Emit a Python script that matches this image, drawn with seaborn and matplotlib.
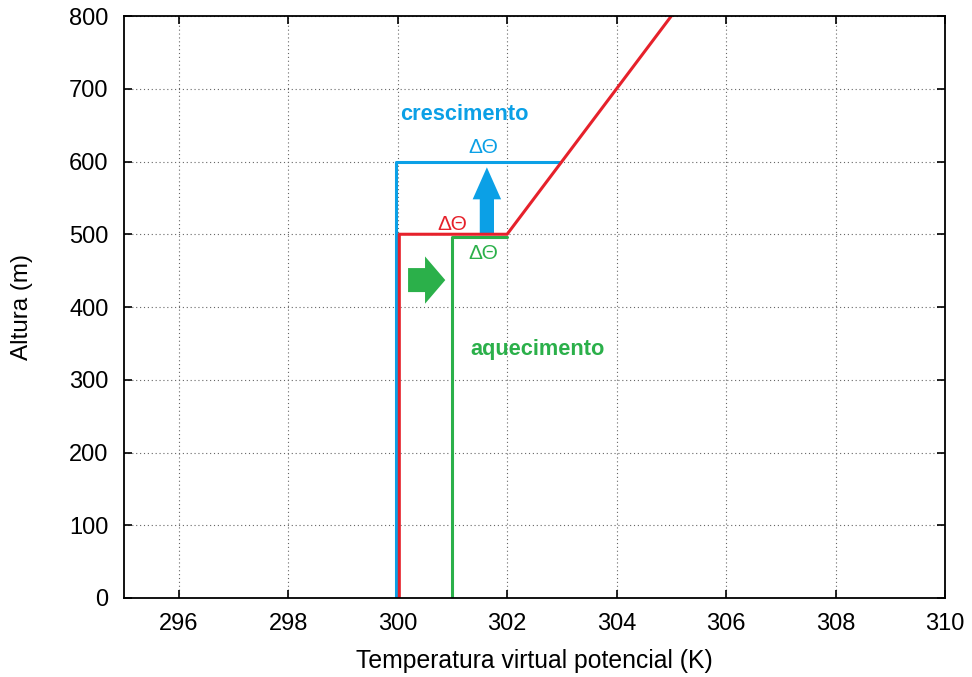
import matplotlib
matplotlib.use("Agg")
import matplotlib.pyplot as plt
import seaborn as sns
import pandas as pd
from matplotlib.patches import FancyArrow

# Data
red_x = [300.03, 300.03, 302.0, 305.0]
red_y = [0, 500, 500, 800]
blue_x = [299.97, 299.97, 302.97]
blue_y = [0, 600, 600]
green_x = [301.0, 301.0, 302.0]
green_y = [0, 496, 496]

xticks = [296, 298, 300, 302, 304, 306, 308, 310]
yticks = [0, 100, 200, 300, 400, 500, 600, 700, 800]

BLUE = "#0ba0e6"
RED = "#e6212b"
GREEN = "#2bb04a"

sns.set_theme(style="white")
plt.rcParams['font.family'] = ['Liberation Sans', 'DejaVu Sans']
plt.rcParams['text.color'] = 'black'
plt.rcParams['axes.labelcolor'] = 'black'
plt.rcParams['xtick.color'] = 'black'
plt.rcParams['ytick.color'] = 'black'

fig = plt.figure(figsize=(9.72, 6.77), dpi=100)
ax = fig.add_axes([124/972, 1-598/677, (945-124)/972, (598-16)/677])

def seg(xs, ys, name):
    return pd.DataFrame({"x": xs, "y": ys, "s": name})

df = pd.concat([seg(blue_x, blue_y, "blue"), seg(green_x, green_y, "green"), seg(red_x, red_y, "red")])
sns.lineplot(data=df, x="x", y="y", hue="s", sort=False, estimator=None,
             palette={"blue": BLUE, "green": GREEN, "red": RED}, linewidth=2.2,
             legend=False, ax=ax)

ax.set_xlim(295, 310)
ax.set_ylim(0, 800)
ax.set_xticks(xticks)
ax.set_yticks(yticks)
ax.grid(True, linestyle=(0, (1, 2.5)), color="#666666", linewidth=0.8)
ax.tick_params(direction="in", length=6, width=1.2, colors="black", labelsize=17,
               top=True, right=True, bottom=True, left=True, pad=11)
for s in ax.spines.values():
    s.set_color("black")
    s.set_linewidth(1.3)
ax.set_xlabel("Temperatura virtual potencial (K)", fontsize=17.8, labelpad=10, color="black")
ax.set_ylabel("Altura (m)", fontsize=17.5, labelpad=26, color="black")

# arrows
ax.add_patch(FancyArrow(301.63, 500, 0, 92, width=0.26, head_width=0.52, head_length=44,
                        length_includes_head=True, color=BLUE, lw=0))
ax.add_patch(FancyArrow(300.19, 437, 0.68, 0, width=33, head_width=65, head_length=0.37,
                        length_includes_head=True, color=GREEN, lw=0))

ax.text(300.04, 665, "crescimento", color=BLUE, fontsize=15.7, fontweight="bold", va="center", ha="left")
ax.text(301.32, 341, "aquecimento", color=GREEN, fontsize=15.7, fontweight="bold", va="center", ha="left")
ax.text(301.56, 619, "ΔΘ", color=BLUE, fontsize=15, va="center", ha="center")
ax.text(301.0, 513, "ΔΘ", color=RED, fontsize=15, va="center", ha="center")
ax.text(301.56, 474, "ΔΘ", color=GREEN, fontsize=15, va="center", ha="center")

fig.savefig("out.png", dpi=100)
